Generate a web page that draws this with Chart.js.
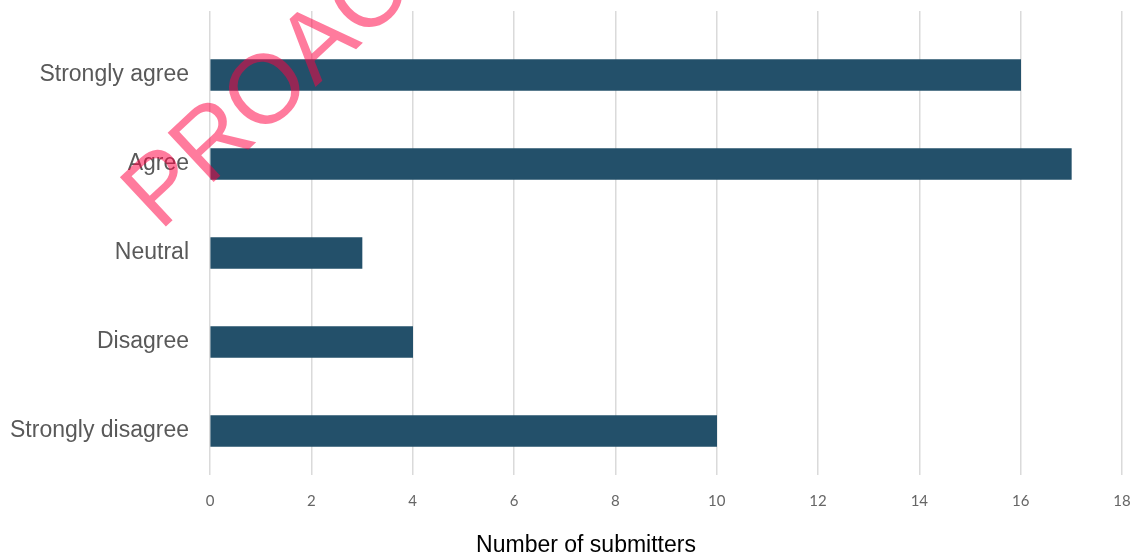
<!DOCTYPE html>
<html>
<head>
<meta charset="utf-8">
<script src="https://cdn.jsdelivr.net/npm/chart.js@4/dist/chart.umd.min.js"></script>
<style>
  html, body { margin: 0; padding: 0; background: #ffffff; }
  #wrap { width: 1137px; height: 559px; position: relative; }
</style>
</head>
<body>
<div id="wrap"><canvas id="c"></canvas></div>
<script>
const categories = ["Strongly agree", "Agree", "Neutral", "Disagree", "Strongly disagree"];
const counts = [16, 17, 3, 4, 10];
const xTicks = [0, 2, 4, 6, 8, 10, 12, 14, 16, 18];
const axisTitle = "Number of submitters";
const watermark = "PROACTIVE";

const points = counts.map((v, i) => ({ x: v, y: i }));

const overlayPlugin = {
  id: 'overlay',
  afterDraw(chart) {
    const ctx = chart.ctx;
    // axis title
    ctx.save();
    ctx.font = '23px "Liberation Sans", Arial, sans-serif';
    ctx.fillStyle = '#000000';
    ctx.textAlign = 'center';
    ctx.textBaseline = 'middle';
    ctx.fillText(axisTitle, 586, 546);
    ctx.restore();
    // watermark
    ctx.save();
    ctx.translate(160, 232);
    ctx.rotate(-43 * Math.PI / 180);
    ctx.font = '98px "Liberation Sans", Arial, sans-serif';
    ctx.fillStyle = 'rgba(255, 2, 67, 0.52)';
    ctx.textAlign = 'left';
    ctx.textBaseline = 'alphabetic';
    ctx.fillText(watermark, 0, 0);
    ctx.restore();
  }
};

new Chart(document.getElementById('c'), {
  type: 'bar',
  data: {
    datasets: [{
      data: points,
      backgroundColor: '#23506a',
      borderWidth: 0,
      barThickness: 31
    }]
  },
  options: {
    indexAxis: 'y',
    responsive: true,
    maintainAspectRatio: false,
    animation: false,
    layout: { padding: { top: 11, right: 15, left: 0, bottom: 32 } },
    plugins: {
      legend: { display: false },
      tooltip: { enabled: false },
      title: { display: false }
    },
    scales: {
      x: {
        type: 'linear',
        min: 0,
        max: 18,
        afterBuildTicks: axis => { axis.ticks = xTicks.map(v => ({ value: v })); },
        afterFit: scale => { scale.paddingLeft = 0; scale.paddingRight = 0; },
        border: { display: false },
        grid: { color: '#dadada', lineWidth: 1.5, drawTicks: false },
        ticks: {
          color: '#666666',
          padding: 17,
          font: { family: 'Lato, "Open Sans", sans-serif', size: 15 }
        }
      },
      y: {
        type: 'linear',
        reverse: true,
        offset: false,
        min: -0.719,
        max: 4.494,
        afterBuildTicks: axis => { axis.ticks = categories.map((c, i) => ({ value: i })); },
        afterFit: scale => { scale.width = 210; scale.paddingTop = 0; scale.paddingBottom = 0; },
        border: { display: false },
        grid: { display: false, drawTicks: false, offset: false },
        ticks: {
          color: '#595959',
          padding: 21,
          font: { family: '"Liberation Sans", Arial, sans-serif', size: 23 },
          callback: v => categories[v]
        }
      }
    }
  },
  plugins: [overlayPlugin]
});
</script>
</body>
</html>
